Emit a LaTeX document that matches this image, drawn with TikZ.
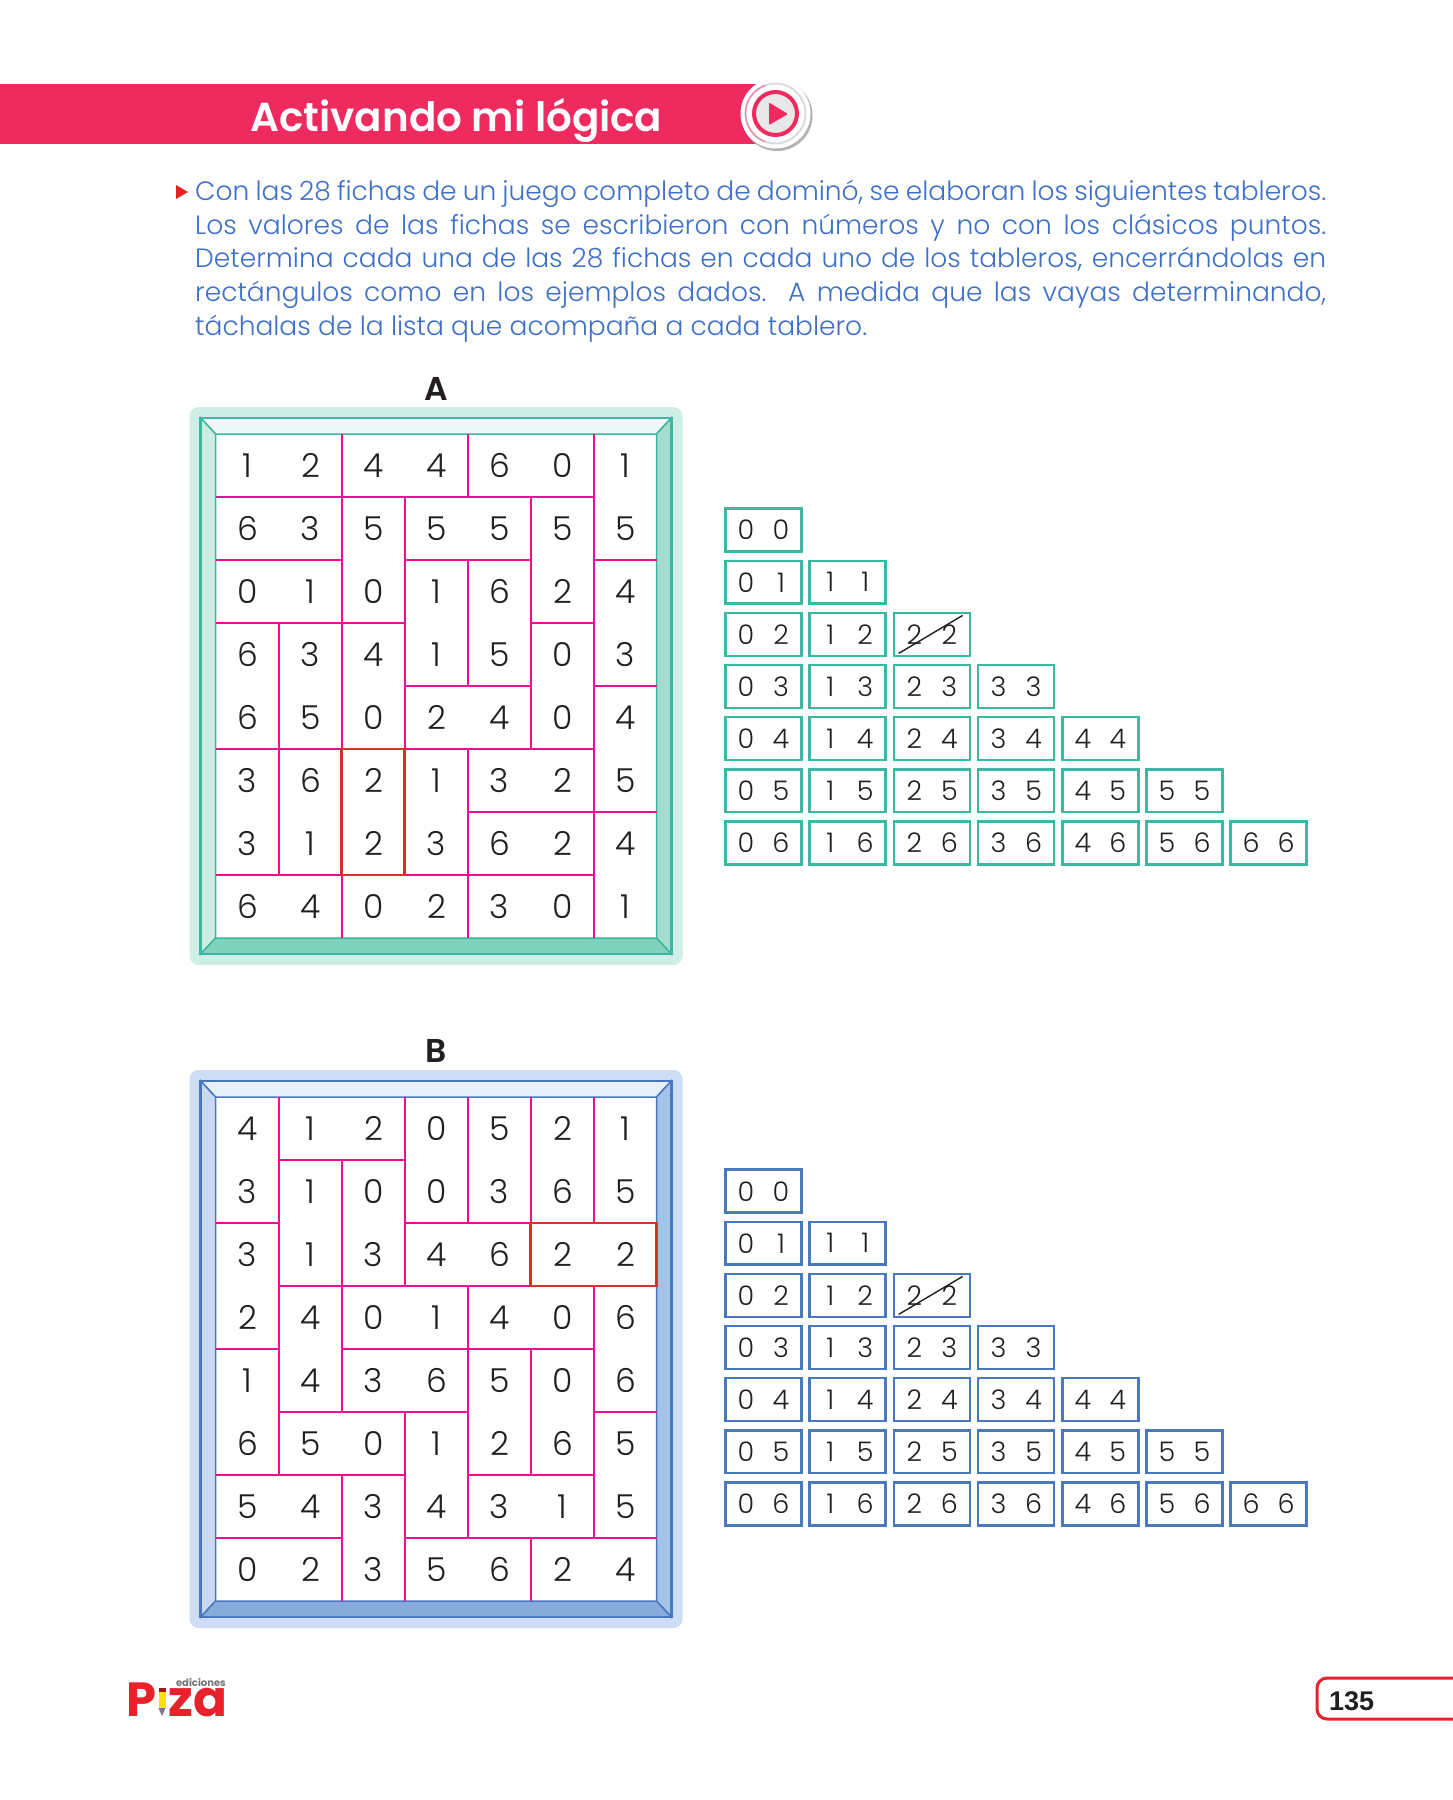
\documentclass[tikz,border=0pt]{standalone}
\usepackage{fontspec}
\setmainfont{Poppins}
\newfontfamily\lightfont{Poppins Light}
\newfontfamily\heavyfont{Poppins SemiBold}
\newfontfamily\logofont{Poppins}[BoldFont=Poppins Bold]
\newfontfamily\pagefont{Liberation Sans}
\usetikzlibrary{positioning}

\definecolor{titlepink}{HTML}{EF2A5F}
\definecolor{textblue}{HTML}{3E70C8}
\definecolor{lineblack}{HTML}{231F20}
\definecolor{magentaline}{HTML}{EE0E96}
\definecolor{redline}{HTML}{D9302A}
\definecolor{logored}{HTML}{E8212B}
% board A
\definecolor{tealframe}{HTML}{3DB8A0}
\definecolor{tealpale}{HTML}{CFEEE5}
\definecolor{tealtop}{HTML}{EDF9F6}
\definecolor{tealside}{HTML}{CDEDE3}
\definecolor{tealright}{HTML}{A4DDCF}
\definecolor{tealbottom}{HTML}{80D2BD}
% board B
\definecolor{blueframe}{HTML}{4A78BE}
\definecolor{bluepale}{HTML}{CEDDF3}
\definecolor{bluetop}{HTML}{E8F0FA}
\definecolor{blueside}{HTML}{C8D9F1}
\definecolor{blueright}{HTML}{A3C3E9}
\definecolor{bluebottom}{HTML}{88ABDC}

\tikzset{
	cell/.style={inner sep=0pt,text=lineblack,font=\lightfont\fontsize{33}{33}\selectfont},
	tile/.style={draw=#1,line width=2.6pt,minimum width=75.9pt,minimum height=42.9pt,inner sep=0pt,
		text=lineblack,font=\lightfont\fontsize{27}{27}\selectfont},
	magline/.style={magentaline,line width=2pt},
	redbox/.style={redline,line width=2.6pt},
	boardname/.style={inner sep=0pt,text=lineblack,font=\heavyfont\fontsize{33}{33}\selectfont},
}

% pale plate, frame and bevels around the 441 x 504 cell area
\newcommand{\boardframe}[6]{
	\fill[#1,rounded corners=9pt] (-26,-27) rectangle (467,531);
	\fill[white] (0,0) rectangle (441,504);
	\filldraw[fill=#3,draw=#2,line width=1.5pt] (-14.8,-16) -- (455.8,-16) -- (441,0) -- (0,0) -- cycle;
	\filldraw[fill=#4,draw=#2,line width=1.5pt] (-14.8,-16) -- (0,0) -- (0,504) -- (-14.8,520) -- cycle;
	\filldraw[fill=#5,draw=#2,line width=1.5pt] (455.8,-16) -- (441,0) -- (441,504) -- (455.8,520) -- cycle;
	\filldraw[fill=#6,draw=#2,line width=1.5pt] (-14.8,520) -- (0,504) -- (441,504) -- (455.8,520) -- cycle;
	\draw[#2,line width=2.6pt] (-14.8,-16) rectangle (455.8,520);
}

\begin{document}
\begin{tikzpicture}[x=1pt,y=-1pt]
	\useasboundingbox (0,0) rectangle (1452,1800);
	\fill[white] (0,0) rectangle (1452,1800);

	% title bar
	\fill[titlepink] (0,84) rectangle (758,144);
	\node[inner sep=0pt,text=white,font=\heavyfont\fontsize{40.4}{40.4}\selectfont] (title) at (456.5,120.5) {Activando mi lógica};

	% play button
	\fill[black!30] (777,115.5) circle (35.5);
	\fill[white] (775.5,113.5) circle (35);
	\draw[black!14,line width=2pt] (775.5,113.5) circle (30);
	\draw[titlepink!60,line width=1.2pt] (775.5,113.5) +(110:30) arc (110:250:30);
	\fill[black!9] (775.5,113.5) circle (22);
	\draw[titlepink,line width=4pt] (775.5,113.5) circle (21.5);
	\fill[titlepink,rounded corners=1pt] (769,102.5) -- (788,114) -- (769,125) -- cycle;

	% statement
	\fill[redline!70!red] (176,185) -- (188,192) -- (176,199) -- cycle;
	\node[anchor=north west,inner sep=0pt,text width=1131pt,text=textblue,align=justify,
		font=\lightfont\fontsize{26.5}{33.6}\selectfont] (statement) at (195,180) {\hbadness=10000\hfuzz=20pt
		Con las 28 fichas de un juego completo de dominó, se elaboran los siguientes tableros.\linebreak
		Los valores de las fichas se escribieron con números y no con los clásicos puntos.\linebreak
		Determina cada una de las 28 fichas en cada uno de los tableros, encerrándolas en\linebreak
		rectángulos como en los ejemplos dados. A medida que las vayas determinando,\linebreak
		táchalas de la lista que acompaña a cada tablero.};

	% board A
	\node[boardname] (nameA) at (436,389) {A};
	\begin{scope}[shift={(215.5,434)}]
		\boardframe{tealpale}{tealframe}{tealtop}{tealside}{tealright}{tealbottom}
	\end{scope}
	\begin{scope}[shift={(215.5,434)},x=63pt,y=-63pt]
		\foreach \rowvals [count=\r from 0] in {{1,2,4,4,6,0,1},{6,3,5,5,5,5,5},{0,1,0,1,6,2,4},{6,3,4,1,5,0,3},
			{6,5,0,2,4,0,4},{3,6,2,1,3,2,5},{3,1,2,3,6,2,4},{6,4,0,2,3,0,1}}
			\foreach \val [count=\c from 0] in \rowvals
				\node[cell] (a\c\r) at (\c+.51,\r+.5) {\val};
		\foreach \x/\from/\to in {1/3/7,2/0/8,3/1/7,4/0/1,4/2/4,4/5/8,5/1/5,6/0/8}
			\draw[magline] (\x,\from) -- (\x,\to);
		\foreach \y/\from/\to in {1/0/6,2/0/2,2/3/5,2/6/7,3/0/3,3/5/6,4/3/5,4/6/7,5/0/6,6/4/7,7/0/6}
			\draw[magline] (\from,\y) -- (\to,\y);
		\draw[redbox] (2,5) rectangle (3,7);
	\end{scope}

	% board B
	\node[boardname] (nameB) at (436,1051) {B};
	\begin{scope}[shift={(215.5,1097)}]
		\boardframe{bluepale}{blueframe}{bluetop}{blueside}{blueright}{bluebottom}
	\end{scope}
	\begin{scope}[shift={(215.5,1097)},x=63pt,y=-63pt]
		\foreach \rowvals [count=\r from 0] in {{4,1,2,0,5,2,1},{3,1,0,0,3,6,5},{3,1,3,4,6,2,2},{2,4,0,1,4,0,6},
			{1,4,3,6,5,0,6},{6,5,0,1,2,6,5},{5,4,3,4,3,1,5},{0,2,3,5,6,2,4}}
			\foreach \val [count=\c from 0] in \rowvals
				\node[cell] (b\c\r) at (\c+.51,\r+.5) {\val};
		\foreach \x/\from/\to in {1/0/6,2/1/3,2/3/5,2/6/8,3/0/3,3/5/8,4/0/2,4/3/7,5/0/2,5/4/6,5/7/8,6/0/2,6/3/7}
			\draw[magline] (\x,\from) -- (\x,\to);
		\foreach \y/\from/\to in {1/1/3,2/0/1,2/3/5,3/1/5,4/0/1,4/2/6,5/1/4,5/6/7,6/0/3,6/4/6,7/0/2,7/3/7}
			\draw[magline] (\from,\y) -- (\to,\y);
		\draw[redbox] (5,2) rectangle (7,3);
	\end{scope}

	% lists of tiles
	\foreach \name/\top/\col in {s/507.5/tealframe,t/1168.5/blueframe}
		\foreach \c in {0,...,6}
			\foreach \r in {\c,...,6} {
				\node[tile=\col] (\name\c\r) at (763.5+84.2*\c,\top+22.7+52.1*\r)
					{\makebox[35pt]{\c}\makebox[35pt]{\r}};
			}
	\foreach \name in {s22,t22}
		\draw[lineblack,line width=1.4pt] (\name.west) ++(6,19) -- ++(64,-38);

	% logo
	\node[anchor=base west,inner sep=0pt,text=logored,font=\logofont\bfseries\fontsize{48}{48}\selectfont] (logoP) at (126,1716) {P};
	\fill[yellow!85!orange] (158.5,1692) rectangle (165.5,1708);
	\fill[logored!70!black] (158.5,1688) rectangle (165.5,1692);
	\fill[lineblack!60] (158.5,1708) -- (165.5,1708) -- (162,1716) -- cycle;
	\node[anchor=base west,inner sep=0pt,text=logored,font=\logofont\bfseries\fontsize{50}{50}\selectfont] (logoza) at (168,1716) {za};
	\node[anchor=base east,inner sep=0pt,text=black!55,font=\logofont\bfseries\fontsize{10}{10}\selectfont] (logoed) at (226,1686) {ediciones};

	% page number
	\draw[logored,line width=3pt,rounded corners=10pt] (1460,1678) -- (1317,1678) -- (1317,1719) -- (1460,1719);
	\node[anchor=base west,inner sep=0pt,text=lineblack,font=\pagefont\bfseries\fontsize{27}{27}\selectfont] (pagenum) at (1329,1710) {135};
\end{tikzpicture}
\end{document}
